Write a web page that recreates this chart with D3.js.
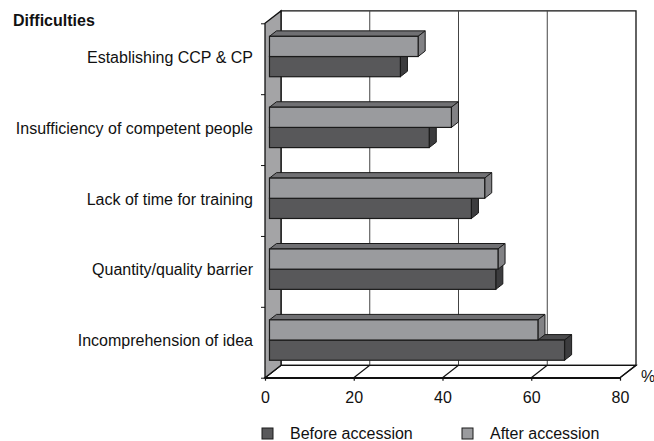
<!DOCTYPE html>
<html>
<head>
<meta charset="utf-8">
<script src="https://cdn.jsdelivr.net/npm/d3@7"></script>
<style>
  body { margin: 0; background: #fff; }
  text { font-family: "Liberation Sans", Arial, sans-serif; fill: #111; }
</style>
</head>
<body>
<svg id="chart" width="654" height="441"></svg>
<script>
// chart data
const categories = ['Establishing CCP & CP', 'Insufficiency of competent people', 'Lack of time for training', 'Quantity/quality barrier', 'Incomprehension of idea']
const series = ['After accession', 'Before accession']
const afterValues = [33.5, 41, 48.5, 51.5, 60.5]
const beforeValues = [29.5, 36, 45.5, 51, 66.5]
const xTicks = [0, 20, 40, 60, 80]
const legendOrder = ['Before accession', 'After accession']

// colours for front / top / side faces
const colors = {
    'Before accession': { front: '#58585a', top: '#4b4b4d', side: '#3c3c3e' },
    'After accession': { front: '#9a9b9e', top: '#707073', side: '#828285' }
}

const svg = d3.select('#chart')

// front plane of the 3d box
const fLeft = 265, fRight = 620, fTop = 23.3, fBottom = 377.7
// depth of the box
const DX = 16, DY = -12.4

const x = d3.scaleLinear().domain([0, 80]).range([fLeft, fRight])
const y = d3.scaleBand().domain(categories).range([fTop, fBottom])
const yEdge = d3.scaleLinear().domain([0, categories.length]).range([fTop, fBottom])

const pts = arr => arr.map(p => p.join(',')).join(' ')

// back wall
svg.append('polygon')
    .attr('points', pts([[fLeft + DX, fTop + DY], [fRight + DX, fTop + DY], [fRight + DX, fBottom + DY], [fLeft + DX, fBottom + DY]]))
    .attr('fill', '#fff')
    .attr('stroke', '#111')
    .attr('stroke-width', 1.3)

// gridlines on back wall
svg.append('g')
  .selectAll('line')
  .data(xTicks.slice(1, -1))
  .join('line')
    .attr('x1', d => x(d) + DX)
    .attr('x2', d => x(d) + DX)
    .attr('y1', fTop + DY)
    .attr('y2', fBottom + DY)
    .attr('stroke', '#444')
    .attr('stroke-width', 1)

// floor
svg.append('polygon')
    .attr('points', pts([[fLeft, fBottom], [fRight, fBottom], [fRight + DX, fBottom + DY], [fLeft + DX, fBottom + DY]]))
    .attr('fill', '#fff')
    .attr('stroke', '#111')
    .attr('stroke-width', 1.3)

svg.append('g')
  .selectAll('line')
  .data(xTicks)
  .join('line')
    .attr('x1', d => x(d))
    .attr('x2', d => x(d) + DX)
    .attr('y1', fBottom)
    .attr('y2', fBottom + DY)
    .attr('stroke', '#111')
    .attr('stroke-width', 1.2)

// left wall
svg.append('polygon')
    .attr('points', pts([[fLeft, fTop], [fLeft + DX, fTop + DY], [fLeft + DX, fBottom + DY], [fLeft, fBottom]]))
    .attr('fill', '#a4a4a6')
    .attr('stroke', '#111')
    .attr('stroke-width', 1.3)

// x axis
const xAxis = d3.axisBottom(x)
    .tickValues(xTicks)
    .tickSize(3)
    .tickSizeOuter(0)
    .tickPadding(11)
svg.append('g')
    .attr('transform', `translate(0,${fBottom})`)
    .call(xAxis)
    .call(g => g.select('.domain').attr('stroke', '#111').attr('stroke-width', 1.5))
    .call(g => g.selectAll('.tick line').attr('stroke', '#111').attr('stroke-width', 1.2))
    .call(g => g.selectAll('.tick text').attr('font-size', 16).attr('fill', '#111'))

// y axis ticks
const yAxis = d3.axisLeft(yEdge)
    .tickValues(d3.range(categories.length + 1))
    .tickFormat('')
    .tickSize(4)
svg.append('g')
    .attr('transform', `translate(${fLeft},0)`)
    .call(yAxis)
    .call(g => g.select('.domain').remove())
    .call(g => g.selectAll('.tick line').attr('stroke', '#111'))

// bars
const fx = 0.28, bx = 0.44
const ox = DX * fx, oy = DY * fx
const bdx = DX * bx, bdy = DY * bx
const barH = 20.2
const yInner = d3.scaleBand().domain(series).range([16.5, 16.5 + 2 * barH])

const rows = []
categories.forEach((c, i) => {
    // before drawn first so after covers its top face
    rows.push({ cat: c, s: 'Before accession', v: beforeValues[i] })
    rows.push({ cat: c, s: 'After accession', v: afterValues[i] })
})

const bars = svg.append('g')
  .selectAll('g')
  .data(rows)
  .join('g')

bars.each(function(d) {
    const g = d3.select(this)
    const x0 = x(0) + ox
    const x1 = x(d.v) + ox
    const y0 = y(d.cat) + yInner(d.s) + oy
    const y1 = y0 + barH
    const c = colors[d.s]
    g.append('polygon')
        .attr('points', pts([[x0, y0], [x1, y0], [x1 + bdx, y0 + bdy], [x0 + bdx, y0 + bdy]]))
        .attr('fill', c.top)
        .attr('stroke', '#1a1a1a')
        .attr('stroke-width', 1)
        .attr('stroke-linejoin', 'round')
    g.append('polygon')
        .attr('points', pts([[x1, y0], [x1 + bdx, y0 + bdy], [x1 + bdx, y1 + bdy], [x1, y1]]))
        .attr('fill', c.side)
        .attr('stroke', '#1a1a1a')
        .attr('stroke-width', 1)
        .attr('stroke-linejoin', 'round')
    g.append('rect')
        .attr('x', x0)
        .attr('y', y0)
        .attr('width', x1 - x0)
        .attr('height', barH)
        .attr('fill', c.front)
        .attr('stroke', '#1a1a1a')
        .attr('stroke-width', 1.2)
})

// category labels
svg.append('g')
  .selectAll('text')
  .data(categories)
  .join('text')
    .attr('x', 253)
    .attr('y', d => y(d) + y.bandwidth() / 2 + 4)
    .attr('text-anchor', 'end')
    .attr('font-size', 16)
    .text(d => d)

svg.append('text')
    .attr('x', 13)
    .attr('y', 26)
    .attr('font-size', 16)
    .attr('font-weight', 'bold')
    .text('Difficulties')

svg.append('text')
    .attr('x', 641)
    .attr('y', 382)
    .attr('font-size', 16)
    .text('%')

// legend
const legend = svg.append('g')
    .attr('transform', 'translate(262,428)')
const item = legend.selectAll('g')
  .data(legendOrder)
  .join('g')
    .attr('transform', (d, i) => `translate(${i * 200},0)`)
item.append('rect')
    .attr('width', 11)
    .attr('height', 11)
    .attr('fill', d => colors[d].front)
    .attr('stroke', '#1a1a1a')
    .attr('stroke-width', 1)
item.append('text')
    .attr('x', 28)
    .attr('y', 11)
    .attr('font-size', 16)
    .text(d => d)
</script>
</body>
</html>
